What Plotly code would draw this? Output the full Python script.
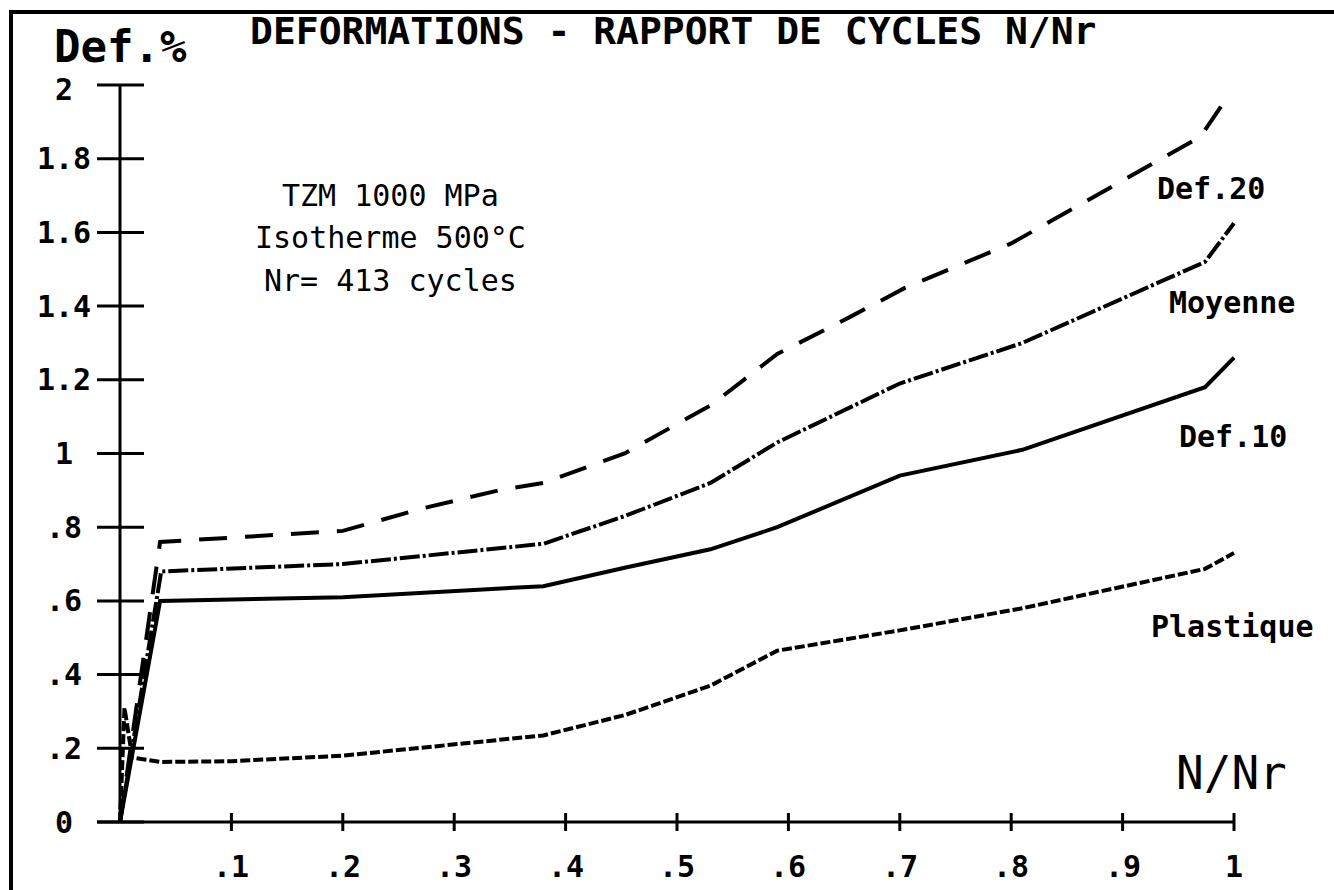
import plotly.graph_objects as go

# ---- data: strain (%) versus cycle ratio N/Nr ----
def20_x = [0, 0.036, 0.2, 0.27, 0.34, 0.38, 0.43, 0.453, 0.50, 0.53, 0.56, 0.59, 0.655, 0.705, 0.80, 0.97, 0.997]
def20_y = [0, 0.76, 0.79, 0.85, 0.90, 0.92, 0.975, 1.00, 1.08, 1.13, 1.20, 1.27, 1.37, 1.45, 1.57, 1.86, 1.98]

moy_x = [0, 0.037, 0.2, 0.38, 0.453, 0.53, 0.59, 0.70, 0.81, 0.974, 1.0]
moy_y = [0, 0.68, 0.70, 0.755, 0.83, 0.92, 1.03, 1.19, 1.30, 1.52, 1.625]

def10_x = [0, 0.036, 0.2, 0.38, 0.453, 0.53, 0.59, 0.70, 0.81, 0.974, 1.0]
def10_y = [0, 0.60, 0.61, 0.64, 0.69, 0.74, 0.80, 0.94, 1.01, 1.18, 1.26]

plast_x = [0, 0.004, 0.011, 0.036, 0.1, 0.2, 0.38, 0.453, 0.53, 0.59, 0.70, 0.81, 0.974, 1.0]
plast_y = [0, 0.31, 0.175, 0.163, 0.165, 0.18, 0.235, 0.29, 0.37, 0.465, 0.52, 0.58, 0.687, 0.73]

y_ticks = [0, 0.2, 0.4, 0.6, 0.8, 1.0, 1.2, 1.4, 1.6, 1.8, 2.0]
y_tick_labels = ["0", ".2", ".4", ".6", ".8", "1", "1.2", "1.4", "1.6", "1.8", "2"]
x_ticks = [0.1, 0.2, 0.3, 0.4, 0.5, 0.6, 0.7, 0.8, 0.9, 1.0]
x_tick_labels = [".1", ".2", ".3", ".4", ".5", ".6", ".7", ".8", ".9", "1"]

curve_labels = ["Def.20", "Moyenne", "Def.10", "Plastique"]

# ---- page geometry ----
W, H = 1334, 890
X0_PX, X1_PX = 120, 1234      # pixel position of N/Nr = 0 and 1
Y0_PX, Y2_PX = 822, 85        # pixel position of Def = 0 and 2
KX = (X1_PX - X0_PX) / 1.0
KY = (Y0_PX - Y2_PX) / 2.0

def dx(px):
    return (px - X0_PX) / KX

def dy(py):
    return (Y0_PX - py) / KY

# the plotting area spans the whole page so that labels and frame stay inside it
XR = [dx(0), dx(W)]
YR = [dy(H), dy(0)]

MONO = "DejaVu Sans Mono"
INK = "black"

fig = go.Figure()

def add_curve(xs, ys, dash, name):
    fig.add_trace(go.Scatter(
        x=xs, y=ys, mode="lines", name=name,
        line=dict(color=INK, width=4, dash=dash),
        hoverinfo="skip", showlegend=False))

add_curve(def20_x, def20_y, "28px,18px", curve_labels[0])
add_curve(moy_x, moy_y, "20px,3px,3px,3px", curve_labels[1])
add_curve(def10_x, def10_y, "solid", curve_labels[2])
add_curve(plast_x, plast_y, "10px,3px", curve_labels[3])

shapes = []
ax_line = dict(color=INK, width=3)
# axes
shapes.append(dict(type="line", xref="x", yref="y", x0=0, x1=0, y0=0, y1=2, line=ax_line))
shapes.append(dict(type="line", xref="x", yref="y", x0=dx(97), x1=1.0, y0=0, y1=0, line=ax_line))
# y ticks cross the axis
for v in y_ticks:
    shapes.append(dict(type="line", xref="x", yref="y", x0=dx(97), x1=dx(144), y0=v, y1=v, line=ax_line))
# x ticks cross the axis
for v in x_ticks:
    shapes.append(dict(type="line", xref="x", yref="y", x0=v, x1=v, y0=dy(831), y1=dy(813), line=ax_line))
# page frame (left and top edges)
shapes.append(dict(type="line", xref="x", yref="y", x0=dx(11), x1=dx(11), y0=dy(11), y1=dy(H + 10), line=dict(color=INK, width=4)))
shapes.append(dict(type="line", xref="x", yref="y", x0=dx(9), x1=dx(W + 10), y0=dy(12), y1=dy(12), line=dict(color=INK, width=4)))

ann = []
bold_tick = dict(family=MONO, size=30, color=INK, weight="bold")
for v, t in zip(y_ticks, y_tick_labels):
    # the top label sits a little lower, under the axis name
    yy = dy(89) if v == 2.0 else v
    ann.append(dict(x=dx(64), y=yy, xref="x", yref="y", text=t, showarrow=False,
                    xanchor="center", yanchor="middle", font=bold_tick))
for v, t in zip(x_ticks, x_tick_labels):
    ann.append(dict(x=v, y=dy(866), xref="x", yref="y", text=t, showarrow=False,
                    xanchor="center", yanchor="middle", font=bold_tick))

# title and axis names
ann.append(dict(x=dx(673), y=dy(31), xref="x", yref="y", text="DEFORMATIONS - RAPPORT DE CYCLES N/Nr",
                showarrow=False, xanchor="center", yanchor="middle",
                font=dict(family=MONO, size=38, color=INK, weight="bold")))
ann.append(dict(x=dx(120), y=dy(46), xref="x", yref="y", text="Def.%", showarrow=False,
                xanchor="center", yanchor="middle", font=dict(family=MONO, size=44, color=INK, weight=600)))
ann.append(dict(x=dx(1231), y=dy(773), xref="x", yref="y", text="N/Nr", showarrow=False,
                xanchor="center", yanchor="middle", font=dict(family=MONO, size=46, color=INK)))

# test conditions
cond_font = dict(family=MONO, size=30, color=INK)
for t, py in [("TZM 1000 MPa", 195), ("Isotherme 500°C", 237), ("Nr= 413 cycles", 280)]:
    ann.append(dict(x=dx(390), y=dy(py), xref="x", yref="y", text=t, showarrow=False,
                    xanchor="center", yanchor="middle", font=cond_font))

# curve names at the right end
lab_font = dict(family=MONO, size=30, color=INK, weight="bold")
for t, (px, py) in zip(curve_labels, [(1211, 188), (1232, 302), (1233, 436), (1232, 626)]):
    ann.append(dict(x=dx(px), y=dy(py), xref="x", yref="y", text=t, showarrow=False,
                    xanchor="center", yanchor="middle", font=lab_font))

fig.update_layout(
    width=W, height=H,
    margin=dict(l=0, r=0, t=0, b=0, pad=0),
    paper_bgcolor="white", plot_bgcolor="white",
    xaxis=dict(range=XR, visible=False, fixedrange=True),
    yaxis=dict(range=YR, visible=False, fixedrange=True),
    shapes=shapes, annotations=ann, showlegend=False,
)

fig.write_html("out.html")
